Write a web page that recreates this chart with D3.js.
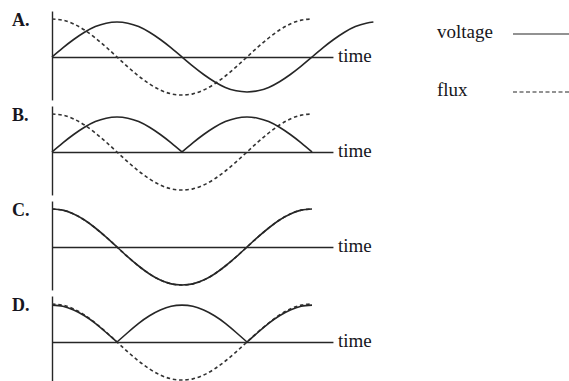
<!DOCTYPE html>
<html><head><meta charset="utf-8">
<script src="https://cdn.jsdelivr.net/npm/d3@7"></script>
<style>body{margin:0;background:#fff}svg{display:block}</style>
</head><body>
<script>
// ---- data (phase in degrees, values normalised to flux peak) ----
const panelLabels = ["A.", "B.", "C.", "D."];
const axisLabel = "time";
const legendLabels = ["voltage", "flux"];

const phase = [0,15,30,45,60,75,90,105,120,135,150,165,180,195,210,225,240,255,270,285,300,315,330,345,360];
const phaseLong = [0,15,30,45,60,75,90,105,120,135,150,165,180,195,210,225,240,255,270,285,300,315,330,345,360,375,390,405,420,435,445];

// A: voltage = sine, flux = cosine
const voltageA = [0,.24,.46,.65,.8,.89,.92,.89,.8,.65,.46,.24,0,-.24,-.46,-.65,-.8,-.89,-.92,-.89,-.8,-.65,-.46,-.24,0,.24,.46,.65,.8,.89,.92];
const fluxA    = [1,.97,.87,.71,.5,.26,0,-.26,-.5,-.71,-.87,-.97,-1,-.97,-.87,-.71,-.5,-.26,0,.26,.5,.71,.87,.97,1];
// B: rectified voltage
const voltageB = [0,.24,.46,.65,.8,.89,.92,.89,.8,.65,.46,.24,0,.24,.46,.65,.8,.89,.92,.89,.8,.65,.46,.24,0];
const fluxB    = [1,.97,.87,.71,.5,.26,0,-.26,-.5,-.71,-.87,-.97,-1,-.97,-.87,-.71,-.5,-.26,0,.26,.5,.71,.87,.97,1];
// C: voltage on top of flux
const voltageC = [1,.97,.87,.71,.5,.26,0,-.26,-.5,-.71,-.87,-.97,-1,-.97,-.87,-.71,-.5,-.26,0,.26,.5,.71,.87,.97,1];
const fluxC    = [1,.97,.87,.71,.5,.26,0,-.26,-.5,-.71,-.87,-.97,-1,-.97,-.87,-.71,-.5,-.26,0,.26,.5,.71,.87,.97,1];
// D: rectified cosine voltage
const voltageD = [.97,.94,.84,.69,.49,.25,0,.25,.49,.69,.84,.94,.97,.94,.84,.69,.49,.25,0,.25,.49,.69,.84,.94,.97];
const fluxD    = [1,.97,.87,.71,.5,.26,0,-.26,-.5,-.71,-.87,-.97,-1,-.97,-.87,-.71,-.5,-.26,0,.26,.5,.71,.87,.97,1];

const panels = [
  {label: panelLabels[0], vt: phaseLong, v: voltageA, f: fluxA},
  {label: panelLabels[1], vt: phase, v: voltageB, f: fluxB},
  {label: panelLabels[2], vt: phase, v: voltageC, f: fluxC},
  {label: panelLabels[3], vt: phase, v: voltageD, f: fluxD}
];

// ---- layout ----
const W = 569, H = 381;
const zeroYs = [57, 152, 247, 342];
const amp = 38;
const axisEnd = 389;      // horizontal axis extent in degrees
const yTop = 1.21, yBottom = -1.13;
const ink = "#262626";
const textInk = "#161620";

const svg = d3.select("body").append("svg").attr("width", W).attr("height", H);
const x = d3.scaleLinear().domain([0, 360]).range([52, 312]);
const xAxisScale = x.copy().domain([0, axisEnd]).range([x(0), x(axisEnd)]);

function segments(ts, vs) {
  // split rectified curves at cusps (zero between two positive values)
  const segs = [];
  let cur = [];
  for (let i = 0; i < ts.length; i++) {
    cur.push([ts[i], vs[i]]);
    if (i > 0 && i < ts.length - 1 && vs[i] === 0 && vs[i-1] > 0 && vs[i+1] > 0) {
      segs.push(cur);
      cur = [[ts[i], vs[i]]];
    }
  }
  segs.push(cur);
  return segs;
}

panels.forEach((p, i) => {
  const z = zeroYs[i];
  const y = d3.scaleLinear().domain([-1, 1]).range([z + amp, z - amp]);
  const yAxisScale = y.copy().domain([yBottom, yTop]).range([y(yBottom), y(yTop)]);
  const g = svg.append("g");

  // vertical axis
  g.append("g").attr("transform", `translate(${x(0)},0)`)
    .call(d3.axisLeft(yAxisScale).tickValues([]).tickSizeOuter(0))
    .call(s => s.select(".domain").attr("stroke", ink).attr("stroke-width", 1.4));
  // time axis
  g.append("g").attr("transform", `translate(0,${y(0)})`)
    .call(d3.axisBottom(xAxisScale).tickValues([]).tickSizeOuter(0))
    .call(s => s.select(".domain").attr("stroke", ink).attr("stroke-width", 1.4));

  const line = d3.line().x(d => x(d[0])).y(d => y(d[1])).curve(d3.curveNatural);

  // flux (dashed)
  g.append("path").datum(phase.map((t, k) => [t, p.f[k]]))
    .attr("d", line).attr("fill", "none").attr("stroke", "#333")
    .attr("stroke-width", 1.6).attr("stroke-dasharray", "3.5,2.8");
  // voltage (solid)
  segments(p.vt, p.v).forEach(seg => {
    g.append("path").datum(seg).attr("d", line).attr("fill", "none")
      .attr("stroke", ink).attr("stroke-width", 1.6);
  });

  g.append("text").attr("x", 12).attr("y", z - 31)
    .attr("font-family", "Liberation Serif, serif").attr("font-weight", "bold")
    .attr("font-size", 18).attr("fill", textInk).text(p.label);
  g.append("text").attr("x", xAxisScale.range()[1] + 5).attr("y", y(0) + 5)
    .attr("font-family", "Liberation Serif, serif")
    .attr("font-size", 19).attr("fill", textInk).text(axisLabel);
});

// legend
const legend = svg.append("g");
[[legendLabels[0], null, 38], [legendLabels[1], "4,2.5", 96]].forEach(([lab, dash, by]) => {
  legend.append("text").attr("x", 437).attr("y", by)
    .attr("font-family", "Liberation Serif, serif").attr("font-size", 19)
    .attr("fill", textInk).text(lab);
  legend.append("line").attr("x1", 513).attr("x2", 569).attr("y1", by - 4).attr("y2", by - 4)
    .attr("stroke", ink).attr("stroke-width", 1.2).attr("stroke-dasharray", dash);
});
</script>
</body></html>
